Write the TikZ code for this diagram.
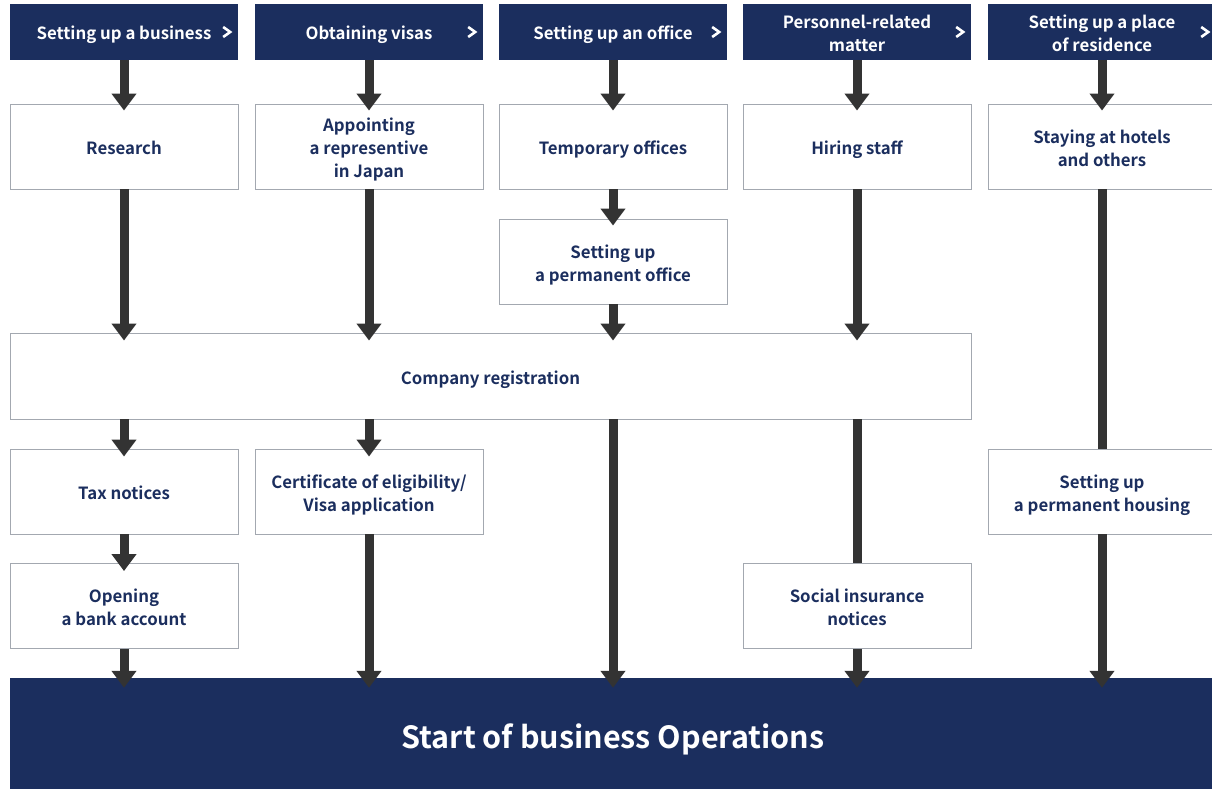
\documentclass[tikz,border=0pt]{standalone}
\usepackage{fontspec}
\setmainfont{Noto Sans CJK JP}[BoldFont={* Bold}]
\usetikzlibrary{arrows.meta}
\definecolor{navy}{HTML}{1B2E5E}
\definecolor{boxline}{HTML}{A3A8B0}
\definecolor{arrowc}{HTML}{333333}
\newcommand\mylbl[2][-3.5pt]{\raisebox{#1}[\height][\depth]{\begin{tabular}{@{}c@{}}#2\end{tabular}}}
\begin{document}
\begin{tikzpicture}[x=1pt,y=-1pt,
  box/.style={draw=boxline, line width=0.9pt, fill=white, minimum width=228pt,
    minimum height=85pt, inner sep=0pt, align=center,
    font=\fontsize{16.8}{23}\selectfont\bfseries, text=navy},
  head/.style={fill=navy, minimum width=228pt, minimum height=56pt, inner sep=0pt,
    align=center, font=\fontsize{16.8}{23}\selectfont\bfseries, text=white},
  arr/.style={draw=arrowc, line width=9pt, -{Triangle[width=24pt,length=17pt]}},
  bar/.style={draw=arrowc, line width=9pt},
  chev/.style={draw=white, line width=2.6pt}]
\useasboundingbox (0,0) rectangle (1212,789);
\clip (0,0) rectangle (1212,789);
\fill[white] (0,0) rectangle (1212,789);

% headers
\node[head] (h1) at (124,32) {\mylbl[-3pt]{Setting up a business}};
\node[head] (h2) at (369,32) {\mylbl[-3pt]{Obtaining visas}};
\node[head] (h3) at (613,32) {\mylbl[-3pt]{Setting up an office}};
\node[head] (h4) at (857,32) {\mylbl[-3pt]{Personnel-related\\matter}};
\node[head] (h5) at (1102,32) {\mylbl[-3pt]{Setting up a place\\of residence}};
\foreach \h in {h1,h2,h3,h4,h5}{
  \draw[chev] ([xshift=-15pt,yshift=5pt]\h.east) -- ([xshift=-8pt]\h.east) -- ([xshift=-15pt,yshift=-5pt]\h.east);
}

% boxes
\node[box] (res) at (124,146.5) {\mylbl{Research}};
\node[box] (app) at (369,146.5) {\mylbl{Appointing\\a representive\\in Japan}};
\node[box] (tmp) at (613,146.5) {\mylbl{Temporary offices}};
\node[box] (hir) at (857,146.5) {\mylbl{Hiring staff}};
\node[box] (sta) at (1102,146.5) {\mylbl{Staying at hotels\\and others}};
\node[box] (per) at (613,261.5) {\mylbl{Setting up\\a permanent office}};
\node[box, minimum width=961pt, minimum height=86pt] (cr) at (490.5,376) {\mylbl{Company registration}};
\node[box] (tax) at (124,491.5) {\mylbl{Tax notices}};
\node[box] (cer) at (369,491.5) {\mylbl{Certificate of eligibility/\\Visa application}};
\node[box] (hou) at (1102,491.5) {\mylbl{Setting up\\a permanent housing}};
\node[box] (ban) at (124,606) {\mylbl{Opening\\a bank account}};
\node[box] (soc) at (857,606) {\mylbl{Social insurance\\notices}};
\node[fill=navy, minimum width=1206pt, minimum height=115pt, inner sep=0pt,
  text=white, font=\fontsize{30.5}{36}\selectfont\bfseries] (sob) at (613,735.5)
  {\mylbl[-6pt]{Start of business Operations}};

% arrows
\draw[arr] (h1.south) -- ([yshift=-7pt]res.north);
\draw[arr] (h2.south) -- ([yshift=-7pt]app.north);
\draw[arr] (h3.south) -- ([yshift=-7pt]tmp.north);
\draw[arr] (h4.south) -- ([yshift=-7pt]hir.north);
\draw[arr] (h5.south) -- ([yshift=-7pt]sta.north);
\draw[arr] (tmp.south) -- ([yshift=-7pt]per.north);
\draw[arr] (res.south) -- ([yshift=-8pt]res |- cr.north);
\draw[arr] (app.south) -- ([yshift=-8pt]app |- cr.north);
\draw[arr] (per.south) -- ([yshift=-8pt]per |- cr.north);
\draw[arr] (hir.south) -- ([yshift=-8pt]hir |- cr.north);
\draw[arr] (res |- cr.south) -- ([yshift=-8pt]tax.north);
\draw[arr] (app |- cr.south) -- ([yshift=-8pt]cer.north);
\draw[arr] (tax.south) -- ([yshift=-8pt]ban.north);
\draw[bar] (hir |- cr.south) -- (soc.north);
\draw[bar] (sta.south) -- (hou.north);
\draw[arr] (ban.south) -- ([yshift=-10pt]ban |- sob.north);
\draw[arr] (cer.south) -- ([yshift=-10pt]cer |- sob.north);
\draw[arr] (per |- cr.south) -- ([yshift=-10pt]per |- sob.north);
\draw[arr] (soc.south) -- ([yshift=-10pt]soc |- sob.north);
\draw[arr] (hou.south) -- ([yshift=-10pt]hou |- sob.north);
\end{tikzpicture}
\end{document}
